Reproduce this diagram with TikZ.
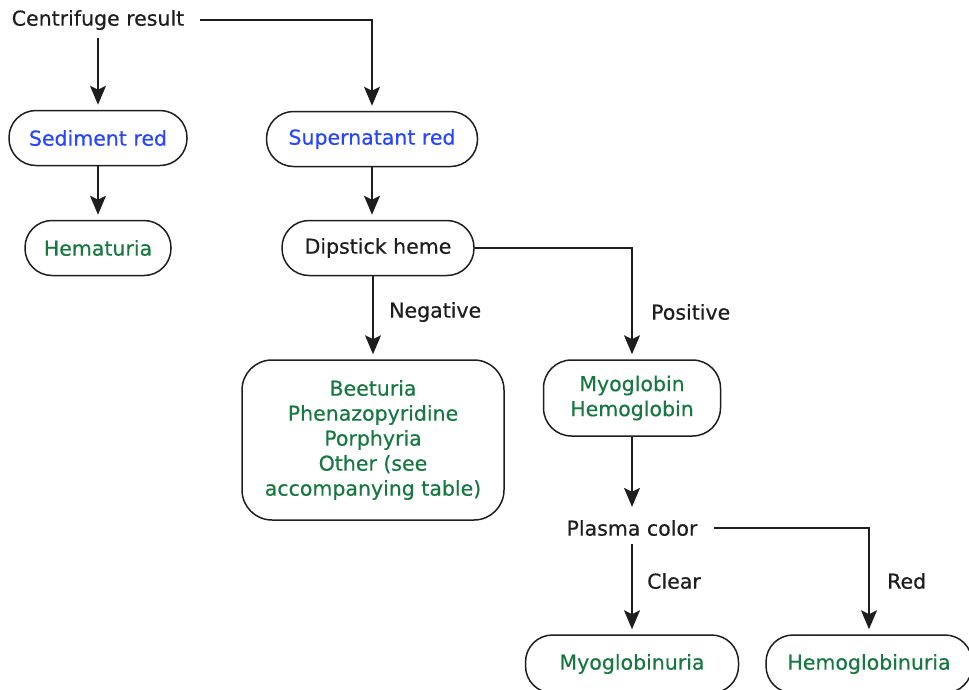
\documentclass[tikz,border=0pt]{standalone}
\usepackage{fontspec}
\setmainfont{DejaVu Sans}[FakeBold=0.4]
\newfontfamily\diagfont{DejaVu Sans}[FakeBold=0.5]
\usetikzlibrary{arrows.meta}
\definecolor{cblue}{RGB}{40,70,255}
\definecolor{cgreen}{RGB}{25,120,65}
\definecolor{cline}{RGB}{30,30,30}
\begin{document}
\begin{tikzpicture}[x=1pt,y=-1pt,
  every node/.style={font=\diagfont\fontsize{20.5}{25}\selectfont, text=cline},
  stadium/.style={draw=cline, line width=1.5pt, rounded corners=27pt, minimum height=55pt, inner sep=0pt, align=center},
  roundbox/.style={draw=cline, line width=1.5pt, rounded corners=30pt, inner sep=0pt, align=center},
  plain/.style={inner xsep=16pt, inner ysep=8pt},
  lbl/.style={anchor=west, inner sep=0pt},
  conn/.style={draw=cline, line width=1.5pt},
  arr/.style={conn, -{Stealth[length=19pt,width=16pt,inset=4pt]}, shorten >=5pt}
]
\useasboundingbox (0,0) rectangle (969,689);
\node[plain] (cr) at (98,20) {Centrifuge result};
\node[stadium, minimum width=178pt, text=cblue] (sed) at (98,138) {Sediment red};
\node[stadium, minimum width=146pt, text=cgreen] (hem) at (98,248) {Hematuria};
\node[stadium, minimum width=211pt, text=cblue] (sup) at (372,139) {Supernatant red};
\node[stadium, minimum width=192pt] (dip) at (378,248) {Dipstick heme};
\node[roundbox, minimum width=262pt, minimum height=160pt, text=cgreen] (neg) at (373,440) {Beeturia\\Phenazopyridine\\Porphyria\\Other (see\\accompanying table)};
\node[roundbox, minimum width=177pt, minimum height=76pt, rounded corners=28pt, text=cgreen] (pos) at (632,398) {Myoglobin\\Hemoglobin};
\node[plain] (pc) at (632,528) {Plasma color};
\node[stadium, minimum width=213pt, minimum height=58pt, text=cgreen] (mgu) at (632,664) {Myoglobinuria};
\node[stadium, minimum width=206pt, minimum height=58pt, text=cgreen] (hgu) at (869,664) {Hemoglobinuria};
\node[lbl] (lneg) at (389,312) {Negative};
\node[lbl] (lpos) at (651,312) {Positive};
\node[lbl] (lclr) at (647,581) {Clear};
\node[lbl] (lred) at (887,581) {Red};
\draw[arr] (cr.south) -- (cr.south |- sed.north);
\draw[arr] (cr.east) -| (sup.north);
\draw[arr] (sed.south) -- (hem.north);
\draw[arr] (sup.south) -- (sup.south |- dip.north);
\draw[arr] (dip.south -| neg.north) -- (neg.north);
\draw[arr] (dip.east) -| (pos.north);
\draw[arr] (pos.south) -- (pc.north);
\draw[arr] (pc.south) -- (mgu.north);
\draw[arr] (pc.east) -| (hgu.north);
\end{tikzpicture}
\end{document}
